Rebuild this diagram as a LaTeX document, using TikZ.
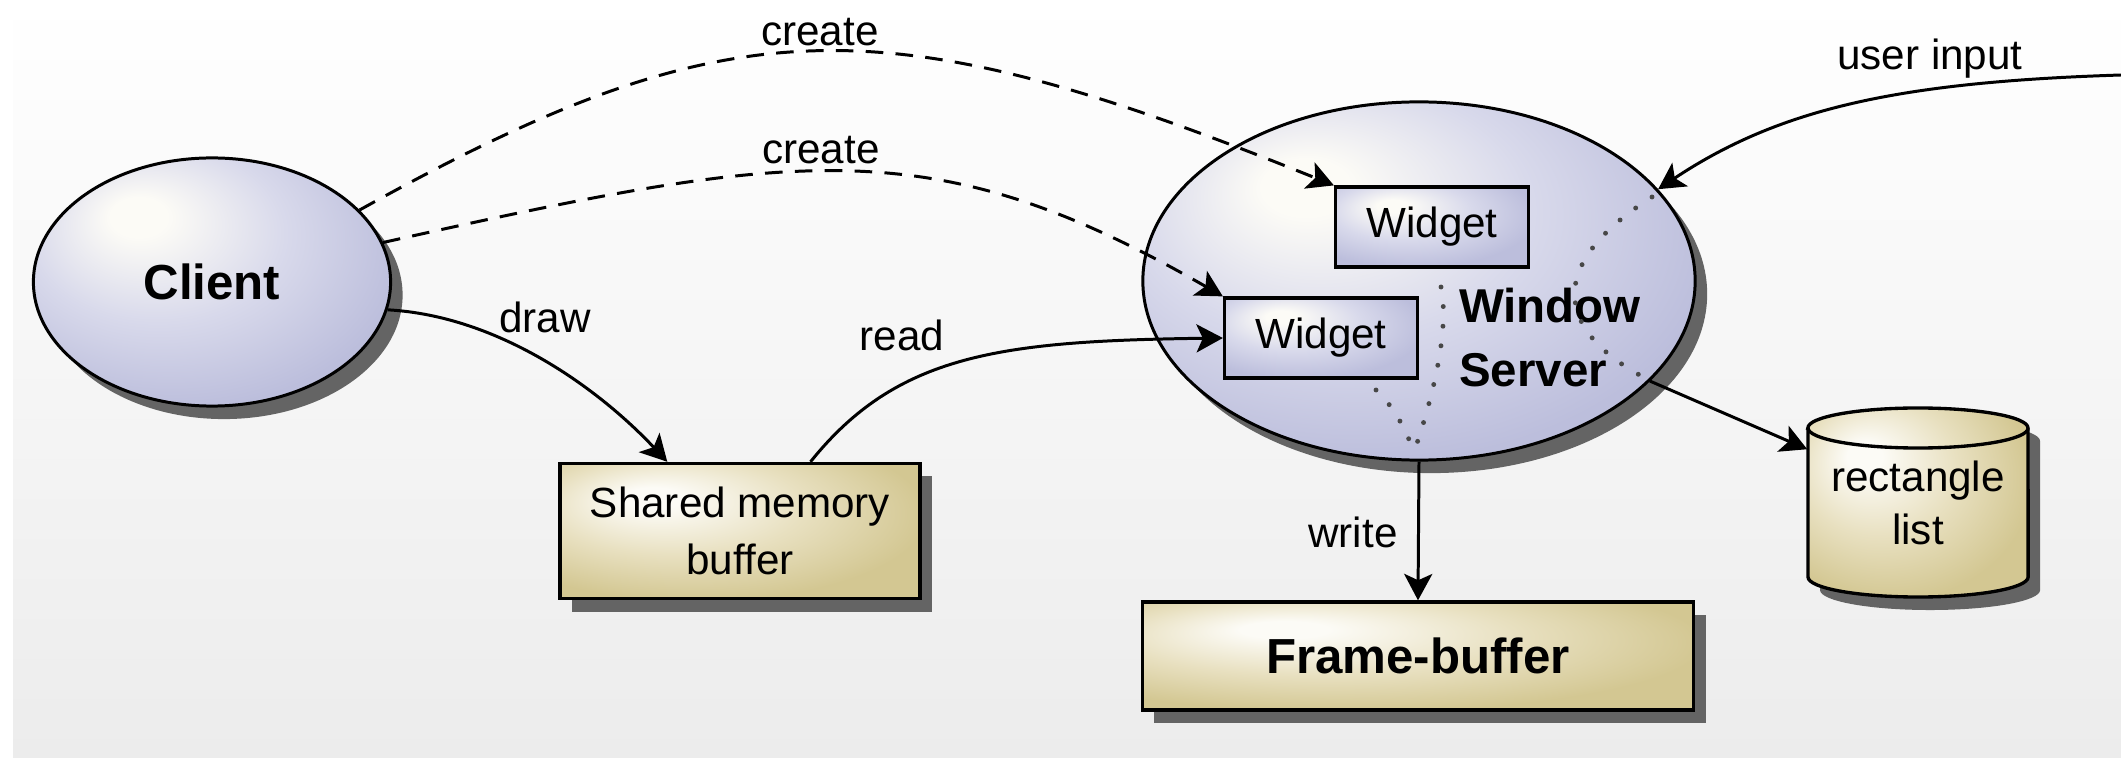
\documentclass[tikz,border=0pt]{standalone}
\usepackage{fontspec}
\setmainfont{Liberation Sans}
\usetikzlibrary{shapes.geometric, arrows.meta, shadows, calc}

\definecolor{lavA}{RGB}{216,217,235}
\definecolor{lavB}{RGB}{188,190,220}
\definecolor{begA}{RGB}{232,224,192}
\definecolor{begB}{RGB}{211,199,146}
\definecolor{hlite}{RGB}{252,251,246}
\definecolor{shadowgray}{RGB}{100,100,100}
\definecolor{bgB}{RGB}{236,236,236}

% soft highlight in the upper left corner of every filled shape
\pgfdeclareradialshading{lavglow}{\pgfpoint{-11bp}{14bp}}{color(0bp)=(hlite); color(4bp)=(hlite); color(18bp)=(lavA); color(32bp)=(lavB); color(60bp)=(lavB)}
\pgfdeclareradialshading{begglow}{\pgfpoint{-13bp}{13bp}}{color(0bp)=(hlite); color(4bp)=(hlite); color(18bp)=(begA); color(32bp)=(begB); color(60bp)=(begB)}

\tikzset{
  lbl/.style={font=\fontsize{12}{15}\selectfont, inner sep=0pt},
  castshadow/.style={drop shadow={shadow xshift=0.12cm, shadow yshift=-0.13cm, fill=shadowgray, opacity=1}},
  blob/.style={ellipse, draw, line width=0.85pt, shade, shading=lavglow, inner sep=0pt, castshadow},
  widgetbox/.style={rectangle, draw, line width=0.9pt, shade, shading=lavglow,
    minimum width=1.93cm, minimum height=0.8cm, inner sep=0pt, font=\fontsize{12}{15}\selectfont},
  storebox/.style={rectangle, draw, line width=0.95pt, shade, shading=begglow, inner sep=0pt, align=center, castshadow},
  conn/.style={line width=0.85pt, -{Stealth[length=7.5pt, width=8pt, inset=1.8pt]}},
  createline/.style={conn, dash pattern=on 5pt off 3.5pt},
  flowdots/.style={line width=1.4pt, line cap=round, dash pattern=on 0pt off 5.6pt, draw=black!72},
}

\begin{document}
\begin{tikzpicture}[x=0.01cm, y=-0.01cm]
\useasboundingbox (0,0) rectangle (2121,758);
\fill[white] (0,0) rectangle (2121,758);
\shade[top color=white, middle color=white!96!black, bottom color=bgB] (13,0) rectangle (2121,758);

% processes
\node[blob, minimum width=3.57cm, minimum height=2.48cm, font=\bfseries\fontsize{14}{17}\selectfont] (cl) at (212,282) {Client};
\node[blob, minimum width=5.52cm, minimum height=3.58cm] (ws) at (1419,281) {};
\node[widgetbox] (w1) at (1432,227) {Widget};
\node[widgetbox] (w2) at (1321,338) {Widget};
\node[font=\bfseries\fontsize{13.5}{18.2}\selectfont, align=left, inner sep=0pt] (wsl) at (1550,338) {Window\\Server};

% flow lines inside the window server
\draw[flowdots] (1652,197) .. controls (1545,265) and (1555,330) .. (1645,378);
\draw[flowdots] (1441,287) .. controls (1450,330) and (1432,400) .. (1414,452);
\draw[flowdots] (1376,390) .. controls (1392,405) and (1404,425) .. (1414,452);

% memory
\node[storebox, minimum width=3.6cm, minimum height=1.35cm, font=\fontsize{12}{16.2}\selectfont] (smb) at (740,531) {Shared memory\\buffer};
\node[storebox, minimum width=5.51cm, minimum height=1.08cm, font=\bfseries\fontsize{14}{17}\selectfont] (fb) at (1418,656) {Frame-buffer};

% rectangle list store
\fill[shadowgray, xshift=0.12cm, yshift=-0.13cm] (1808,428) -- (1808,577)
  arc[start angle=180, end angle=360, x radius=1.1cm, y radius=0.2cm] -- (2028,428)
  arc[start angle=0, end angle=180, x radius=1.1cm, y radius=0.2cm] -- cycle;
\shade[shading=begglow, draw, line width=0.95pt] (1808,428) -- (1808,577)
  arc[start angle=180, end angle=360, x radius=1.1cm, y radius=0.2cm] -- (2028,428)
  arc[start angle=0, end angle=180, x radius=1.1cm, y radius=0.2cm] -- cycle;
\draw[line width=0.95pt] (1808,428) arc[start angle=180, end angle=360, x radius=1.1cm, y radius=0.2cm];
\node[align=center, inner sep=0pt, font=\fontsize{12}{15.1}\selectfont, minimum width=2.2cm, minimum height=1.89cm] (rl) at (1918,502.5) {rectangle\\list};

% connectors
\draw[createline] (cl.26) .. controls (732,3) and (882,3) .. (w1.north west);
\draw[createline] (cl.13) .. controls (797,150) and (932,129) .. (w2.north west);
\draw[conn] (cl.-9) .. controls (500,316) and (600,390) .. ($(smb.north west)!0.3!(smb.north east)$);
\draw[conn] ($(smb.north west)!0.694!(smb.north east)$) .. controls (897,354) and (1000,341) .. (w2.west);
\draw[conn] (ws.south) -- (fb.north);
\coordinate (uin) at (2121,75);
\draw[conn] (uin) .. controls (1900,82) and (1780,108) .. (ws.21);
\draw[conn] (ws) -- ($(rl.north west)+(0,42)$);

% labels
\node[lbl] (lc1) at (820,32) {create};
\node[lbl] (lc2) at (821,150) {create};
\node[lbl] (ldraw) at (545,317) {draw};
\node[lbl] (lread) at (902,335) {read};
\node[lbl] (lwrite) at (1353,532) {write};
\node[lbl] (luser) at (1930,59) {user input};
\end{tikzpicture}
\end{document}
